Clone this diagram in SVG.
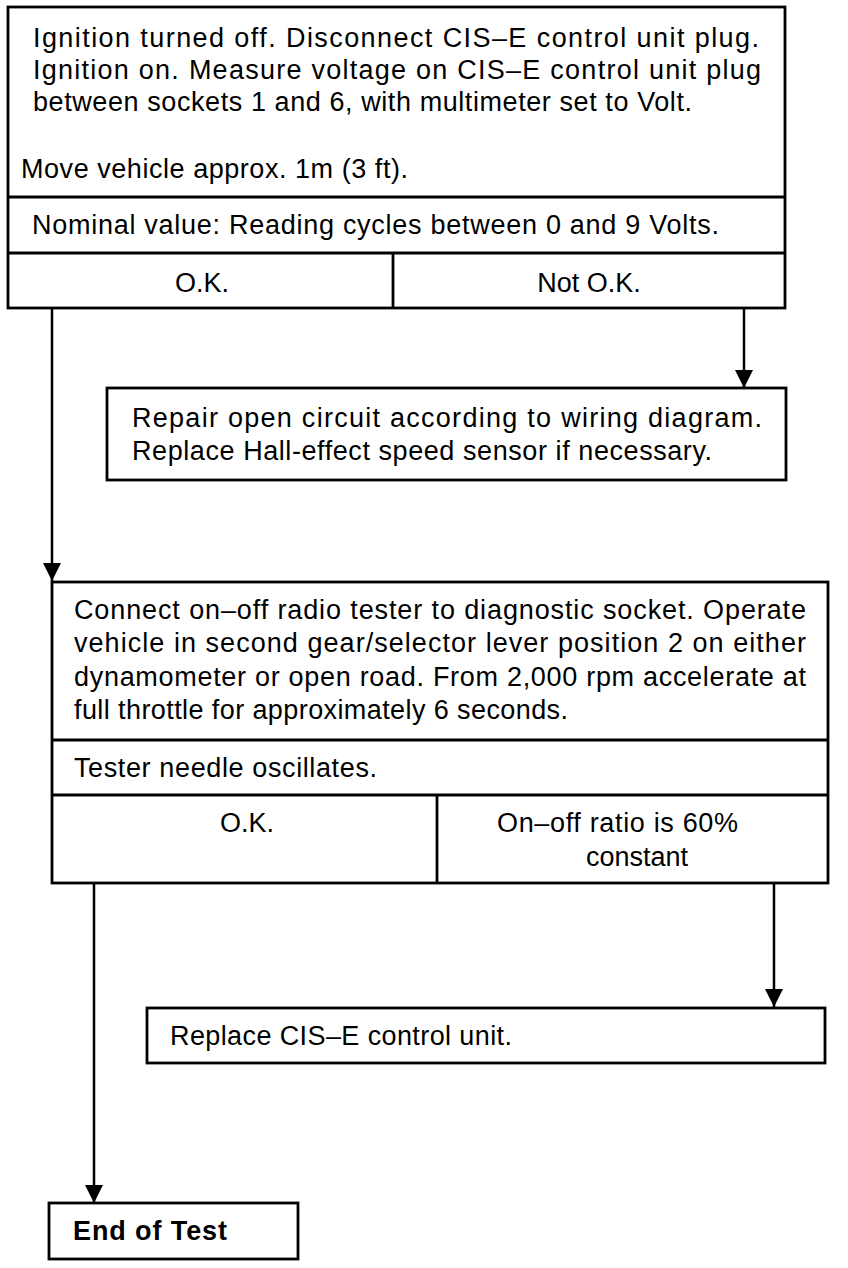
<svg xmlns="http://www.w3.org/2000/svg" width="848" height="1268" viewBox="0 0 848 1268">
<style>
  .box { fill: #fff; stroke: #000; stroke-width: 2.8; }
  .div { stroke: #000; stroke-width: 2.8; fill: none; }
  .conn { stroke: #000; stroke-width: 2.5; fill: none; }
  .t { font-family: "Liberation Sans", Arial, sans-serif; font-size: 27px; fill: #000; }
  .tl { font-family: "Liberation Sans", Arial, sans-serif; font-size: 27px; fill: #000; }
  .b { font-weight: bold; }
  .mid { text-anchor: middle; }
</style>
<defs>
  <marker id="arr" viewBox="0 0 18 18" refX="18" refY="9" markerWidth="18" markerHeight="18" markerUnits="userSpaceOnUse" orient="auto">
    <path d="M0,0 L18,9 L0,18 z" fill="#000"/>
  </marker>
</defs>
<rect width="848" height="1268" fill="#fff"/>

<g id="connectors">
  <path class="conn" d="M744,308 V388" marker-end="url(#arr)"/>
  <path class="conn" d="M52,308 V581" marker-end="url(#arr)"/>
  <path class="conn" d="M94,883 V1203" marker-end="url(#arr)"/>
  <path class="conn" d="M774,883 V1007" marker-end="url(#arr)"/>
</g>

<g id="node-check-voltage">
  <rect class="box" x="8" y="7" width="777" height="301"/>
  <line class="div" x1="8" y1="197" x2="785" y2="197"/>
  <line class="div" x1="8" y1="253" x2="785" y2="253"/>
  <line class="div" x1="393" y1="253" x2="393" y2="308"/>
  <text class="t" x="33" y="47" textLength="726" lengthAdjust="spacing">Ignition turned off.  Disconnect CIS–E control unit plug.</text>
  <text class="t" x="33" y="79" textLength="728" lengthAdjust="spacing">Ignition on.  Measure voltage on CIS–E control unit plug</text>
  <text class="t" x="33" y="111" textLength="659" lengthAdjust="spacing">between sockets 1 and 6, with multimeter set to Volt.</text>
  <text class="t" x="21" y="178" textLength="387" lengthAdjust="spacing">Move vehicle approx. 1m (3 ft).</text>
  <text class="t" x="32" y="234" textLength="687" lengthAdjust="spacing">Nominal value:  Reading cycles between 0 and 9 Volts.</text>
  <text class="t mid" x="202" y="292">O.K.</text>
  <text class="t mid" x="589" y="292">Not O.K.</text>
</g>

<g id="node-repair">
  <rect class="box" x="107" y="388" width="679" height="92"/>
  <text class="t" x="132" y="427" textLength="630" lengthAdjust="spacing">Repair open circuit according to wiring diagram.</text>
  <text class="t" x="132" y="460" textLength="580" lengthAdjust="spacing">Replace Hall-effect speed sensor if necessary.</text>
</g>

<g id="node-radio-tester">
  <rect class="box" x="52" y="582" width="776" height="301"/>
  <line class="div" x1="52" y1="740" x2="828" y2="740"/>
  <line class="div" x1="52" y1="795" x2="828" y2="795"/>
  <line class="div" x1="437" y1="795" x2="437" y2="883"/>
  <text class="tl" x="74" y="619" textLength="732" lengthAdjust="spacing">Connect on–off radio tester to diagnostic socket. Operate</text>
  <text class="tl" x="74" y="652" textLength="732" lengthAdjust="spacing">vehicle in second gear/selector lever position 2 on either</text>
  <text class="tl" x="74" y="686" textLength="732" lengthAdjust="spacing">dynamometer or open road. From 2,000 rpm accelerate at</text>
  <text class="tl" x="74" y="719" textLength="494" lengthAdjust="spacing">full throttle for approximately 6 seconds.</text>
  <text class="tl" x="74" y="777" textLength="303" lengthAdjust="spacing">Tester needle oscillates.</text>
  <text class="tl mid" x="247" y="832">O.K.</text>
  <text class="tl" x="497" y="832" textLength="241" lengthAdjust="spacing">On–off ratio is 60%</text>
  <text class="tl mid" x="637" y="866">constant</text>
</g>

<g id="node-replace-unit">
  <rect class="box" x="147" y="1008" width="678" height="55"/>
  <text class="tl" x="170" y="1045" textLength="342" lengthAdjust="spacing">Replace CIS–E control unit.</text>
</g>

<g id="node-end">
  <rect class="box" x="49" y="1203" width="249" height="56"/>
  <text class="tl b" x="73" y="1240" textLength="154" lengthAdjust="spacing">End of Test</text>
</g>
</svg>
